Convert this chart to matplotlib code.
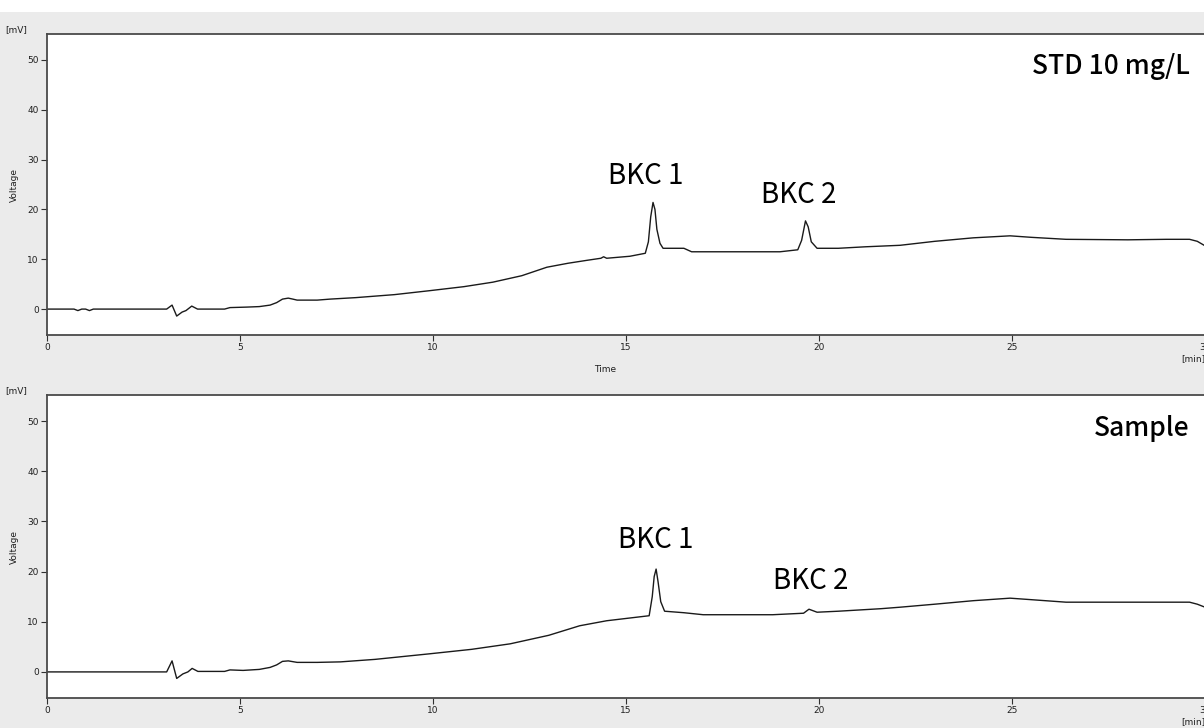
import matplotlib.pyplot as plt
from matplotlib.patches import Rectangle

# chromatogram traces (time in min, signal in mV)
std_time = [0.0, 0.7, 0.8, 0.9, 1.0, 1.1, 1.2, 3.1, 3.24, 3.36, 3.5, 3.6, 3.75, 3.9,
            4.6, 4.74, 5.18, 5.5, 5.78, 5.95, 6.1, 6.25, 6.37, 6.48, 7.0, 7.33, 8.0,
            9.0, 9.92, 10.8, 11.55, 12.3, 12.95, 13.5, 14.0, 14.35, 14.42, 14.5, 15.1,
            15.5, 15.58, 15.64, 15.7, 15.75, 15.8, 15.88, 15.96, 16.5, 16.7, 18.99,
            19.45, 19.55, 19.65, 19.72, 19.8, 19.95, 20.5, 21.2, 22.1, 23.0, 24.0,
            24.95, 25.5, 26.4, 28.0, 29.0, 29.6, 29.8, 30.0]
std_volt = [0.0, 0.0, -0.3, 0.0, 0.0, -0.3, 0.0, 0.0, 0.8, -1.4, -0.6, -0.3, 0.6, 0.0,
            0.0, 0.3, 0.4, 0.5, 0.8, 1.3, 2.0, 2.2, 2.0, 1.8, 1.8, 2.0, 2.3,
            2.9, 3.7, 4.5, 5.4, 6.7, 8.4, 9.2, 9.8, 10.2, 10.5, 10.2, 10.6,
            11.2, 13.5, 18.5, 21.4, 20.0, 16.0, 13.2, 12.2, 12.2, 11.5, 11.5,
            11.9, 13.8, 17.7, 16.5, 13.5, 12.2, 12.2, 12.5, 12.8, 13.6, 14.3,
            14.7, 14.4, 14.0, 13.9, 14.0, 14.0, 13.6, 12.7]

smp_time = [0.0, 3.1, 3.24, 3.36, 3.52, 3.65, 3.76, 3.91, 4.6, 4.74, 5.08, 5.5,
            5.78, 5.95, 6.1, 6.25, 6.48, 7.0, 7.6, 8.5, 9.9, 11.0, 12.0, 13.0,
            13.8, 14.5, 15.6, 15.68, 15.73, 15.78, 15.83, 15.9, 16.0, 16.5, 17.0,
            18.8, 19.6, 19.74, 19.95, 20.5, 21.6, 22.1, 23.0, 24.0, 24.95, 25.5,
            26.4, 28.0, 29.6, 29.8, 30.0]
smp_volt = [0.0, 0.0, 2.2, -1.3, -0.4, 0.0, 0.7, 0.1, 0.1, 0.4, 0.3, 0.5,
            0.9, 1.4, 2.1, 2.2, 1.9, 1.9, 2.0, 2.5, 3.6, 4.5, 5.6, 7.3,
            9.2, 10.2, 11.2, 15.0, 19.0, 20.5, 18.0, 14.0, 12.1, 11.8, 11.4,
            11.4, 11.7, 12.5, 11.9, 12.1, 12.6, 12.9, 13.5, 14.2, 14.7, 14.4,
            13.9, 13.9, 13.9, 13.5, 12.9]

panel_titles = ["STD 10 mg/L", "Sample"]
peak_names = ["BKC 1", "BKC 2"]
# label anchor positions (time, mV) for each panel
peak_label_pos = [[(15.52, 26.8), (19.48, 22.8)], [(15.78, 26.2), (19.79, 18.2)]]

x_ticks = [0, 5, 10, 15, 20, 25, 30]
y_ticks = [0, 10, 20, 30, 40, 50]

fig = plt.figure(figsize=(12.04, 7.28), dpi=100, facecolor="#ebebeb")
fig.patches.append(Rectangle((0, 1 - 12 / 728), 1, 12 / 728, transform=fig.transFigure,
                             facecolor="white", edgecolor="none", zorder=-1))

tick_font = dict(family="DejaVu Sans", size=6.5, color="#202020")
ax_w = (1205 - 47) / 1204
ax_top = fig.add_axes([47 / 1204, 1 - 335 / 728, ax_w, 301 / 728])
ax_bot = fig.add_axes([47 / 1204, 1 - 698 / 728, ax_w, 303 / 728])

series = [(std_time, std_volt), (smp_time, smp_volt)]
for i, ax in enumerate([ax_top, ax_bot]):
    t, v = series[i]
    ax.plot(t, v, color="#1a1a1a", lw=1.0)
    ax.set_xlim(0, 30)
    ax.set_ylim(-5.2, 55.2)
    ax.set_facecolor("white")
    for s in ax.spines.values():
        s.set_color("#4a4a4a")
        s.set_linewidth(1.3)
    ax.set_xticks(x_ticks)
    ax.set_yticks(y_ticks)
    ax.set_xticklabels([str(x) for x in x_ticks], fontdict=tick_font)
    ax.set_yticklabels([str(y) for y in y_ticks], fontdict=tick_font)
    ax.tick_params(axis="both", length=4, width=0.8, color="#303030", pad=2)

    ax.text(-0.017, 1.0, "[mV]", transform=ax.transAxes, ha="right", va="bottom",
            **tick_font)
    ax.text(-0.028, 0.5, "Voltage", transform=ax.transAxes, rotation=90,
            ha="center", va="center", **tick_font)
    ax.text(0.482, -0.1, "Time", transform=ax.transAxes, ha="center", va="top",
            **tick_font)
    ax.text(1.0, -0.063, "[min]", transform=ax.transAxes, ha="right", va="top",
            **tick_font)

    ax.text(29.6, 48.6, panel_titles[i], ha="right", va="center",
            fontsize=19, family="Noto Sans CJK JP", fontweight="medium",
            color="black")
    for name, (px, py) in zip(peak_names, peak_label_pos[i]):
        ax.text(px, py, name, ha="center", va="center", fontsize=20,
                family="Noto Sans CJK JP", color="black")

fig.savefig("out.png", dpi=100, facecolor=fig.get_facecolor())
